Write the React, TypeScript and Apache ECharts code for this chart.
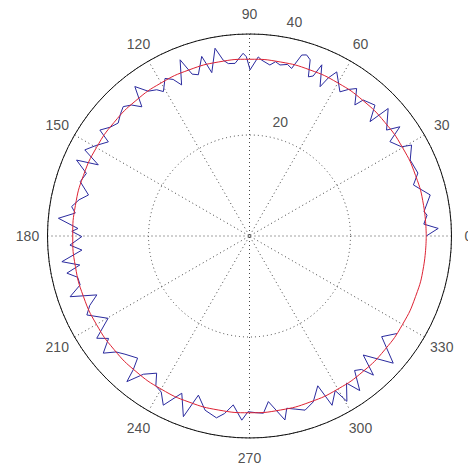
import React, { useEffect, useRef } from 'react';
import * as echarts from 'echarts';

// Blue (measured) trace: angle in degrees and radius
const blueAngles = [
  0, 2.3, 3.9, 6.7, 8.0, 12.8, 17.3, 20.5, 25.3, 29.3, 30.4, 33.9, 36.0, 37.7, 42.6, 43.5, 46.2, 50.1, 51.2, 54.0,
  56.0, 57.9, 62.0, 63.5, 64.7, 67.1, 68.3, 69.7, 71.0, 72.5, 73.9, 75.9, 77.5, 79.9, 81.5, 83.2, 86.0, 87.2, 89.8, 91.0,
  92.0, 94.8, 97.0, 98.5, 100.4, 103.0, 104.9, 107.6, 109.5, 111.5, 114.2, 116.0, 118.2, 120.8, 122.4, 125.0, 127.5, 129.8, 132.0, 134.3,
  136.5, 139.3, 142.0, 144.7, 146.3, 149.5, 152.4, 154.8, 156.3, 159.0, 162.2, 165.7, 168.0, 170.6, 172.5, 174.7, 177.5, 178.5, 180.2, 182.9,
  184.8, 187.8, 189.7, 191.5, 193.5, 196.1, 198.7, 201.1, 203.5, 205.9, 210.2, 213.8, 216.0, 218.7, 221.0, 223.5, 227.5, 229.0, 229.9, 232.5,
  235.9, 238.0, 240.5, 243.0, 246.7, 249.9, 252.2, 255.7, 259.7, 262.0, 264.5, 267.6, 269.5, 272.0, 274.5, 276.5, 280.9, 282.2, 285.0, 287.7,
  291.0, 294.5, 296.0, 299.0, 300.5, 303.4, 305.5, 308.0, 310.0, 311.7, 313.7, 318.5, 322.7, 326.5,
];
const blueRadii = [
  35.0, 37.4, 34.6, 35.4, 34.9, 36.7, 34.0, 35.6, 35.2, 36.8, 34.9, 33.5, 36.8, 34.3, 37.3, 32.9, 35.9, 35.1, 33.3, 36.1,
  35.0, 33.7, 36.8, 35.0, 32.7, 36.8, 34.1, 33.6, 36.9, 37.6, 37.3, 34.2, 34.8, 34.4, 34.9, 34.1, 34.9, 35.5, 32.9, 35.5,
  36.2, 34.3, 34.4, 35.2, 37.8, 33.2, 36.8, 33.5, 34.0, 37.5, 32.8, 34.5, 35.4, 33.3, 34.3, 35.0, 37.3, 33.3, 34.9, 35.8,
  35.2, 34.3, 35.0, 36.3, 33.6, 35.3, 36.8, 33.1, 37.4, 34.6, 35.2, 32.9, 34.5, 35.7, 34.8, 38.0, 34.0, 35.2, 33.2, 35.6,
  33.3, 37.5, 34.1, 36.9, 35.0, 34.9, 37.5, 32.4, 34.5, 35.8, 32.4, 36.4, 34.5, 37.1, 35.0, 34.0, 32.8, 35.1, 37.7, 34.5,
  32.8, 35.0, 35.5, 37.6, 33.9, 38.1, 33.1, 35.6, 36.6, 35.5, 33.6, 36.5, 34.8, 35.0, 35.2, 33.0, 37.1, 34.9, 35.5, 36.2,
  35.2, 32.6, 37.3, 35.0, 38.0, 34.9, 37.6, 33.8, 34.5, 36.9, 32.6, 38.0, 32.9, 35.0,
];

// Red (fitted) circle
const redAngles = [
  0, 10, 20, 30, 40, 50, 60, 70, 80, 90, 100, 110, 120, 130, 140, 150, 160, 170, 180,
  190, 200, 210, 220, 230, 240, 250, 260, 270, 280, 290, 300, 310, 320, 330, 340, 350, 360,
];
const redRadii = [
  35, 35, 35, 35, 35, 35, 35, 35, 35, 35, 35, 35, 35, 35, 35, 35, 35, 35, 35,
  35, 35, 35, 35, 35, 35, 35, 35, 35, 35, 35, 35, 35, 35, 35, 35, 35, 35,
];

// Tick labels
const angleLabels = [0, 30, 60, 90, 120, 150, 180, 210, 240, 270, 300, 330];
const radiusLabels = [20, 40];
const radiusMax = 40;
const radiusLabelAngle = 82;

export default function App() {
  const ref = useRef<HTMLDivElement>(null);
  useEffect(() => {
    if (!ref.current) return;
    const chart = echarts.init(ref.current, null, { renderer: 'svg' });
    const font = { fontFamily: 'Liberation Sans, Arial, sans-serif', fontSize: 14, color: '#222' };
    const hiddenAxis = {
      axisLine: { show: false },
      axisTick: { show: false },
      axisLabel: { show: false },
      splitLine: { show: false },
    };
    chart.setOption({
      animation: false,
      backgroundColor: '#ffffff',
      polar: [
        { center: [249.5, 236], radius: 202 },
        { center: [249.5, 236], radius: 222 },
      ],
      angleAxis: [
        {
          polarIndex: 0,
          type: 'value',
          min: 0,
          max: 360,
          interval: 30,
          startAngle: 0,
          clockwise: false,
          axisLine: { show: true, lineStyle: { color: '#111', width: 1 } },
          axisTick: { show: false },
          axisLabel: { show: false },
          splitLine: { show: true, lineStyle: { color: '#444', width: 1, type: [1, 3] } },
        },
        {
          polarIndex: 1,
          type: 'value',
          min: 0,
          max: 360,
          interval: 30,
          startAngle: 0,
          clockwise: false,
          ...hiddenAxis,
        },
      ],
      radiusAxis: [
        {
          polarIndex: 0,
          type: 'value',
          min: 0,
          max: radiusMax,
          interval: 20,
          axisLine: { show: false },
          axisTick: { show: false },
          axisLabel: { show: false },
          splitLine: { show: true, lineStyle: { color: '#444', width: 1, type: [1, 3] } },
        },
        {
          polarIndex: 1,
          type: 'value',
          min: 0,
          max: 1,
          ...hiddenAxis,
        },
      ],
      series: [
        {
          type: 'line',
          coordinateSystem: 'polar',
          polarIndex: 0,
          data: blueAngles.map((a, i) => [blueRadii[i], a]),
          symbol: 'none',
          lineStyle: { color: '#2a2a9e', width: 1 },
          z: 3,
          silent: true,
        },
        {
          type: 'line',
          coordinateSystem: 'polar',
          polarIndex: 0,
          data: redAngles.map((a, i) => [redRadii[i], a]),
          symbol: 'none',
          smooth: true,
          lineStyle: { color: '#dd2233', width: 1 },
          z: 4,
          silent: true,
        },
        {
          type: 'scatter',
          coordinateSystem: 'polar',
          polarIndex: 0,
          data: radiusLabels.map((r) => [r, radiusLabelAngle]),
          symbolSize: 0,
          silent: true,
          label: {
            show: true,
            position: 'right',
            distance: 9,
            offset: [0, -14],
            formatter: (p: any) => String(p.value[0]),
            ...font,
          },
        },
        {
          type: 'scatter',
          coordinateSystem: 'polar',
          polarIndex: 1,
          data: angleLabels.map((a) =>
            a === 0 ? { value: [1, a], label: { offset: [-3, 0] } } : [1, a]
          ),
          symbolSize: 0,
          silent: true,
          label: {
            show: true,
            position: 'inside',
            formatter: (p: any) => String(p.value[1]),
            ...font,
          },
        },
      ],
    });
    return () => chart.dispose();
  }, []);
  return (
    <div
      ref={ref}
      style={{ position: 'fixed', left: 0, top: 0, width: 468, height: 471, background: '#fff' }}
    />
  );
}
